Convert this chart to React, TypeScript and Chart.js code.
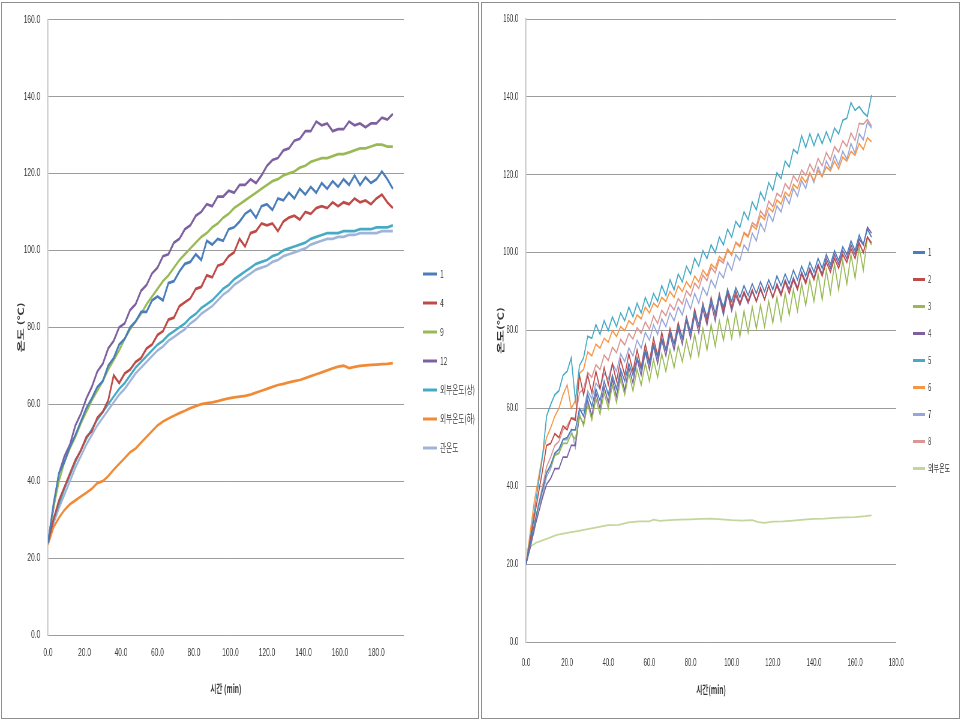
import React, { useEffect, useRef } from 'react';
import { Chart, registerables } from 'chart.js';

Chart.register(...registerables);

// ---------------- data: left chart ----------------
const L_LABELS = ['1', '4', '9', '12', '외부온도(상)', '외부온도(하)', '관온도'];
const L_TIME = [0,3,6,9,12,15,18,21,24,27,30,33,36,39,42,45,48,51,54,57,60,63,66,69,72,75,78,81,84,87,90,93,96,99,102,105,108,111,114,117,120,123,126,129,132,135,138,141,144,147,150,153,156,159,162,165,168,171,174,177,180,183,186,189];
const L_S1 = [24,34,42,45,49,52,55.5,59,61.5,64.5,66,70,72,75.5,77,80,81.5,84,84,87,88,87,91.5,92,94.5,96.5,97,99,97.5,102.5,101.5,103,102.5,105.5,106,107.5,109.5,110.5,108.5,111.5,112,110.5,113.5,113,115,113.5,116,114.5,116.5,115,117.5,116,118,116.5,118.5,117,119.5,117,119,117.5,118.5,120.5,118.5,116];
const L_S4 = [24,30,35,38.5,42,45.5,48,51.5,53,56.5,58,61,67.5,65.5,68,69,71,72,74.5,75.5,78,79,82,82.5,85.5,86.5,87.5,90,90.5,93.5,93,96,96.5,98.5,99.5,103,101,104.5,105,107,106.5,107,105,107.5,108.5,109,108,110,109.5,111,111.5,111,112.5,111.5,112.5,112,113.5,112.5,113,112,113.5,114.5,112.5,111];
const L_S9 = [24,33,40,45,48.5,51.5,55,58,61,63.5,66,69,71.5,74,77,79.5,81.5,83.5,86,88,90,92,93.5,95.5,97.5,99,100.5,102,103.5,104.5,106,107,108.5,109.5,111,112,113,114,115,116,117,118,118.5,119.5,120,120.5,121.5,122,123,123.5,124,124,124.5,125,125,125.5,126,126.5,126.5,127,127.5,127.5,127,127];
const L_S12 = [24,33,42,46.5,49.5,54.5,57.5,61.5,64.5,68.5,70.5,74.5,76.5,80,81,84.5,86,89.5,91,94,95.5,98.5,99,102,103,105.5,106.5,109,110,112,111.5,114,114,115.5,115,117,117,118.5,117.5,119.5,122,123.5,124,126,126.5,128.5,129,131,131,133.5,132.5,133,131,131.5,131.5,133.5,132.5,133,132,133,133,134.5,134,135.5];
const L_SU = [24,30,34,38,41.5,45,48,51,53.5,56,58,60,62,64,65.5,67.5,69.5,71,72.5,74,75.5,76.5,78,79,80,81,82.5,83.5,85,86,87,88.5,90,91,92.5,93.5,94.5,95.5,96.5,97,97.5,98.5,99,100,100.5,101,101.5,102,103,103.5,104,104.5,104.5,104.5,105,105,105,105.5,105.5,105.5,106,106,106,106.5];
const L_SD = [23.5,28,30.5,32.5,34,35,36,37,38,39.5,40,41.3,43,44.5,46,47.5,48.5,50,51.5,53,54.5,55.5,56.3,57,57.7,58.3,59,59.5,60,60.3,60.5,60.8,61.2,61.5,61.8,62,62.2,62.5,63,63.5,64,64.5,65,65.3,65.7,66,66.3,66.8,67.3,67.8,68.3,68.8,69.3,69.8,70,69.4,69.7,70,70.1,70.2,70.3,70.4,70.5,70.7];
const L_SP = [24,29,33,36.5,40,43.5,46.5,49.5,52,54.5,56.5,58.5,60.5,62.5,64,66,68,69.5,71,72.5,74,75,76.5,77.5,78.5,79.5,81,82,83.5,84.5,85.5,87,88.5,89.5,91,92,93,94,95,95.5,96,97,97.5,98.5,99,99.5,100,100.5,101.5,102,102.5,103,103,103.5,103.5,104,104,104.5,104.5,104.5,104.5,105,105,105];

// ---------------- data: right chart ----------------
const R_LABELS = ['1', '2', '3', '4', '5', '6', '7', '8', '외부온도'];
const R_TIME = [0,2,4,6,8,10,12,14,16,18,20,22,24,26,28,30,32,34,36,38,40,42,44,46,48,50,52,54,56,58,60,62,64,66,68,70,72,74,76,78,80,82,84,86,88,90,92,94,96,98,100,102,104,106,108,110,112,114,116,118,120,122,124,126,128,130,132,134,136,138,140,142,144,146,148,150,152,154,156,158,160,162,164,166,168];
const R_S1 = [20,25,30,35,39,43.5,45.5,48.5,49.5,52,52.5,54.5,54.5,60,58,63.5,60.5,65,62,67,63.5,68.5,65,70,67,71.5,68.5,73,70,75,71.5,76.5,73,78,75,79.5,76.5,81,78,83,79.5,84.5,81.5,86.5,83.5,88,84.5,89,86,90.5,87.5,91,88.5,91.5,89,92,89.5,92.5,90,93,90.5,94,91.5,94.5,92,95.5,93,96.5,94,97.5,95,98.5,96,99.5,97,100.5,98,101.5,99.5,103,100.5,104.5,102,106,104];
const R_S2 = [20,26,32,38,44,50.5,51,53.5,52.5,55.5,54.5,57.5,57,68.5,63.5,68.5,64,69.5,65,70.5,66,71.5,67,72.5,68.5,74,69.5,75,70.5,76.5,72,78,73.5,79.5,75,80.5,76.5,82,78,83.5,79.5,85.5,81,87,82.5,88.5,84,89.5,85,90.5,86,90,87,90,87.5,90.5,87.5,91,88,91.5,88.5,91.5,89,92.5,89.5,93,90.5,94.5,92,95.5,93,96.5,94,97.5,95,98.5,96,99.5,97.5,101,98.5,102.5,100,104,102.5];
const R_S3 = [20,25,30,35,39,43.5,45,48,48.5,51,51,53.5,52,58.5,55.5,61,57,62.5,58.5,64,60,66,61.5,67.5,63.5,69,64.5,70,66,71.5,67,72.5,68,74,69.5,75,70.5,76,72,77.5,73,79,73.5,80.5,75,81.5,76,82.5,77.5,83.5,78,84.5,78.5,85,79.5,86,80.5,86.5,81,87.5,82,88.5,82.5,89.5,84,90.5,85,92,86.5,93,87.5,94.5,88,95.5,89.5,97,90.5,98,92,99.5,93.5,101.5,95.5,104,102];
const R_S4 = [20,24,29,33,37,40.5,42,44.5,44.5,47.5,47.5,50.5,50.5,58,56,62,58,64,60,65.5,61.5,67.5,63,69,64.5,70.5,66.5,72.5,68.5,74.5,70,76,71.5,77.5,73.5,79,75,80.5,76.5,82.5,78,84,79.5,85.5,81.5,87,82.5,88.5,84,89.5,85,89,86.5,89.5,87,90,87.5,90.5,88,91.5,88.5,92,89.5,93,90.5,93.5,91,95,92.5,96,93.5,97,94.5,98.5,96,99.5,97,100.5,98.5,102,99.5,103.5,102,106.5,105];
const R_S5 = [20,26.5,33.5,40.5,47.5,58,61,63.5,64.5,68.5,69.5,73,62,71,73,78.5,78,81.5,79,82.5,80,83.5,81,84.5,82.5,86,83.5,87,84.5,88.5,86,89.5,87.5,91.5,89,93,90.5,94.5,92.5,96.5,94.5,98.5,96.5,100.5,98.5,102,100,104,102,106,104,108,106.5,110.5,108.5,113,111,115.5,113.5,118,116,120.5,119,123.5,122,126.5,125.5,130,127,130.5,127.5,130.5,128,131,128.5,132,130.5,134,134.5,138.5,136.5,137.5,136,135,140.5];
const R_S6 = [20,28,36,42,48,52.5,55,58,60,63.5,66,60,62,69,70,74.5,73.5,76.5,75.5,78,77,80,78.5,81,80,82.5,81.5,84,83,86,84.5,87,86,88.5,87.5,90,88.5,91.5,90,92.5,91,94,92.5,95.5,94,97,96,99,98,101,99.5,102.5,101.5,105,104,107,106,109.5,108.5,111.5,110.5,113.5,112.5,115.5,114.5,117.5,116.5,119.5,118,120.5,118.5,121,119.5,122,121,123.5,121.5,124.5,123.5,126,125,128,126.5,129.5,128.5];
const R_S7 = [20,24.5,28.5,34.5,37.5,42.5,44.5,48,48.5,52,52,54.5,50,59.5,59.5,64.5,62.5,66.5,65,69,67.5,71.5,69.5,74,72,75.5,73.5,77.5,75.5,79.5,77.5,81.5,79,83,81,84.5,82.5,86,84,88,85.5,89.5,87,91,89,93,91,95,93.5,97.5,95.5,99.5,98,102,100.5,105,103,107.5,105.5,110,108,112,110.5,114.5,112.5,116.5,114.5,118.5,116.5,120.5,118,122,119.5,123.5,121.5,125,122.5,126,124,128,125.5,130.5,129,133.5,132];
const R_S8 = [20,25,30,35,40,45,47.5,50.5,51.5,54.5,55.5,57.5,57.5,64,65,69.2,68,71.2,70,73.7,72.3,75.7,74.3,77.7,76.3,79.2,77.8,80.7,79.3,82.2,80.3,83.7,81.8,85.2,83.8,86.7,85.3,88.2,86.8,90.2,88.8,92.2,90.8,94.2,92.8,96.2,94.8,98.2,97.3,100.7,99.3,102.7,101.8,105.2,104.3,107.7,106.8,110.7,109.3,113.2,111.8,115.2,114.3,117.7,116.3,119.7,118.3,121.2,119.8,122.7,120.8,124.2,122.3,125.7,123.8,127.2,125.8,128.7,127.3,130.7,128.8,133.2,133,134.2,132.5];
const R_EXT_TIME = [0,2,5,10,15,20,25,30,35,40,45,50,55,60,62,65,70,75,80,85,90,95,100,105,110,113,116,120,125,130,135,140,145,150,155,160,165,168];
const R_EXT = [23.5,24.5,25.5,26.5,27.5,28,28.5,29,29.5,30,30.1,30.7,31,31,31.4,31.1,31.3,31.4,31.5,31.6,31.7,31.5,31.3,31.2,31.3,30.8,30.6,30.9,31,31.2,31.4,31.6,31.7,31.9,32,32.1,32.3,32.5];

const X_TICKS = [0, 20, 40, 60, 80, 100, 120, 140, 160, 180];

// ---------------- styles ----------------
const L_COLORS = ['#4A7EBB', '#BE4B48', '#98B954', '#7D60A0', '#46AAC5', '#F08A35', '#A0B4D8'];
const R_COLORS = ['#4A7EBB', '#BE4B48', '#98B954', '#7D60A0', '#46AAC5', '#F79646', '#97A6DA', '#D99694', '#C3D69B'];
const NUM_FONT = "'Liberation Sans', Arial, sans-serif";
const KR_FONT = "'Noto Sans CJK KR', 'Liberation Sans', sans-serif";
const TXT = '#383838';

const pts = (t: number[], v: number[]) => t.map((x, i) => ({ x, y: v[i] }));

function makeDatasets(labels: string[], colors: string[], series: { t: number[]; v: number[] }[], width: number) {
  return series.map((s, i) => ({
    label: labels[i],
    data: pts(s.t, s.v),
    borderColor: colors[i],
    backgroundColor: colors[i],
    borderWidth: width,
    pointRadius: 0,
    tension: 0,
  }));
}

// forces the legend box to a fixed width so its place is predictable
const fixedLegend = (w: number) => ({
  id: 'fixedLegend',
  beforeInit(chart: any) {
    const lg = chart.legend;
    if (lg) {
      const orig = lg.fit.bind(lg);
      lg.fit = () => {
        orig();
        lg.width = w;
      };
    }
  },
});

type PanelOpts = {
  xMax: number;
  xTitle: string;
  yTitle: string;
  xAxisH: number;
  yAxisW: number;
  gapW: number;
  pad: { top: number; right: number; bottom: number; left: number };
  legendW: number;
  legendPad: number;
  legendFont: number;
  legendBox: number;
  tickFontX: number;
  tickFontY: number;
  xTickPad: number;
  yTitlePad: number;
  xTitlePad: number;
};

function buildConfig(datasets: any[], o: PanelOpts): any {
  return {
    type: 'line',
    data: { datasets },
    plugins: [fixedLegend(o.legendW)],
    options: {
      responsive: false,
      animation: false,
      events: [],
      layout: { padding: o.pad },
      plugins: {
        tooltip: { enabled: false },
        legend: {
          position: 'right',
          labels: {
            boxWidth: o.legendBox,
            boxHeight: 3,
            padding: o.legendPad,
            color: TXT,
            font: { size: o.legendFont, family: KR_FONT },
            generateLabels: (chart: any) =>
              Chart.defaults.plugins.legend.labels.generateLabels(chart).map((l: any) => ({ ...l, lineWidth: 0 })),
          },
        },
      },
      scales: {
        x: {
          type: 'linear',
          min: 0,
          max: o.xMax,
          afterBuildTicks: (s: any) => {
            s.ticks = X_TICKS.map((v) => ({ value: v }));
          },
          afterFit: (s: any) => {
            s.height = o.xAxisH;
          },
          grid: { display: false, drawTicks: false },
          border: { display: false },
          ticks: {
            autoSkip: false,
            maxRotation: 0,
            padding: o.xTickPad,
            color: TXT,
            font: { size: o.tickFontX, family: NUM_FONT },
            callback: (v: any) => Number(v).toFixed(1),
          },
          title: {
            display: true,
            text: o.xTitle,
            color: TXT,
            font: { size: 11, weight: 'bold', family: KR_FONT },
            padding: { top: 0, bottom: o.xTitlePad },
          },
        },
        y: {
          type: 'linear',
          min: 0,
          max: 160,
          afterFit: (s: any) => {
            s.width = o.yAxisW;
          },
          grid: { color: '#9c9c9c', lineWidth: 1, drawTicks: false },
          border: { display: true, color: '#b8b8b8', width: 1.5 },
          ticks: {
            stepSize: 20,
            padding: 13,
            color: TXT,
            font: { size: o.tickFontY, family: NUM_FONT },
            callback: (v: any) => Number(v).toFixed(1),
          },
          title: {
            display: true,
            text: o.yTitle,
            color: TXT,
            font: { size: 13, weight: 'bold', family: KR_FONT },
            padding: { top: o.yTitlePad, bottom: 0 },
          },
        },
        gap: {
          type: 'linear',
          axis: 'y',
          position: 'right',
          display: true,
          grid: { display: false },
          border: { display: false },
          ticks: { display: false },
          afterFit: (s: any) => {
            s.width = o.gapW;
          },
        },
      },
    },
  };
}

export default function App() {
  const leftRef = useRef<HTMLCanvasElement | null>(null);
  const rightRef = useRef<HTMLCanvasElement | null>(null);

  useEffect(() => {
    const leftSeries = [L_S1, L_S4, L_S9, L_S12, L_SU, L_SD, L_SP].map((v) => ({ t: L_TIME, v }));
    const rightSeries = [R_S1, R_S2, R_S3, R_S4, R_S5, R_S6, R_S7, R_S8]
      .map((v) => ({ t: R_TIME, v }))
      .concat([{ t: R_EXT_TIME, v: R_EXT }]);

    // left canvas: 840 internal px shown in 504 css px (horizontal squeeze 0.6)
    const left = new Chart(
      leftRef.current as HTMLCanvasElement,
      buildConfig(makeDatasets(L_LABELS, L_COLORS, leftSeries, 2.75), {
        xMax: 195,
        xTitle: '시간 (min)',
        yTitle: '온도 (℃)',
        xAxisH: 68,
        yAxisW: 80,
        gapW: 14,
        pad: { top: 19, right: 0, bottom: 17, left: 0 },
        legendW: 840 - 687,
        legendPad: 18,
        legendFont: 11,
        legendBox: 23,
        tickFontX: 11,
        tickFontY: 11,
        xTickPad: 11,
        yTitlePad: 26,
        xTitlePad: 8,
      })
    );
    // right canvas: 800 internal px shown in 480 css px
    const right = new Chart(
      rightRef.current as HTMLCanvasElement,
      buildConfig(makeDatasets(R_LABELS, R_COLORS, rightSeries, 1.75), {
        xMax: 180,
        xTitle: '시간(min)',
        yTitle: '온도(℃)',
        xAxisH: 60,
        yAxisW: 75,
        gapW: 11,
        pad: { top: 19, right: 0, bottom: 18, left: 0 },
        legendW: 800 - 703,
        legendPad: 17,
        legendFont: 10,
        legendBox: 20,
        tickFontX: 10,
        tickFontY: 10,
        xTickPad: 15,
        yTitlePad: 24,
        xTitlePad: 5.5,
      })
    );
    return () => {
      left.destroy();
      right.destroy();
    };
  }, []);

  return (
    <div style={{ position: 'absolute', left: 0, top: 0, width: 962, height: 722, background: '#ffffff', overflow: 'hidden' }}>
      <canvas
        ref={leftRef}
        width={840}
        height={720}
        style={{ position: 'absolute', left: 0, top: 0, width: 504, height: 720 }}
      />
      <canvas
        ref={rightRef}
        width={800}
        height={720}
        style={{ position: 'absolute', left: 481, top: 0, width: 480, height: 720 }}
      />
      <div style={{ position: 'absolute', left: 1, top: 2, width: 478, height: 717, boxSizing: 'border-box', border: '1px solid #8e8e8e', pointerEvents: 'none' }} />
      <div style={{ position: 'absolute', left: 481, top: 2, width: 479, height: 717, boxSizing: 'border-box', border: '1px solid #8e8e8e', pointerEvents: 'none' }} />
    </div>
  );
}
